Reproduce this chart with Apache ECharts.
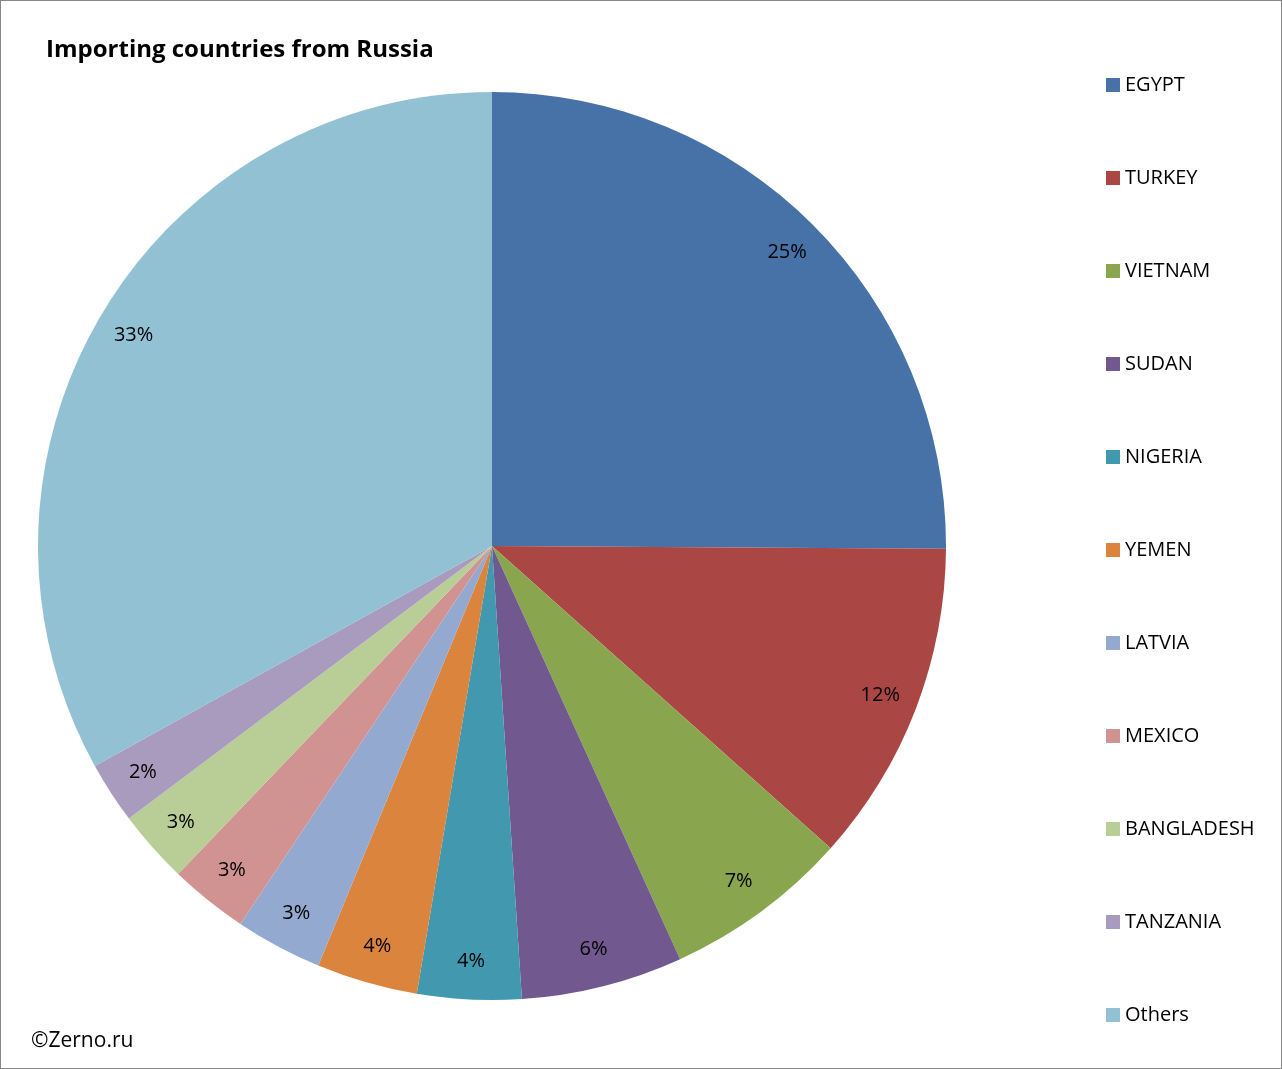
<!DOCTYPE html>
<html><head><meta charset="utf-8">
<script src="https://cdn.jsdelivr.net/npm/echarts@6/dist/echarts.min.js"></script>
<style>body{margin:0;background:#fff}#c{position:absolute;left:0;top:0;width:1280px;height:1067px;border:1px solid #888}</style>
</head><body><div id="c"></div>
<script>
var countries=['EGYPT','TURKEY','VIETNAM','SUDAN','NIGERIA','YEMEN','LATVIA','MEXICO','BANGLADESH','TANZANIA','Others'];
var shares=[25.1,11.5,6.6,5.75,3.7,3.6,3.1,2.8,2.6,2.2,33.05];
var colors=['#4672a8','#aa4643','#89a54e','#71588f','#4198af','#db843d','#93a9cf','#d19392','#b9cd96','#a99bbd','#92c1d3'];
var font='"Open Sans", "Liberation Sans", sans-serif';
var data=countries.map(function(n,i){return {name:n,value:shares[i]};});
var chart=echarts.init(document.getElementById('c'));
chart.setOption({
  color:colors,
  animation:false,
  title:{text:'Importing countries from Russia',left:40,top:32,textStyle:{fontFamily:font,fontSize:24,fontWeight:'bold',color:'#000'}},
  graphic:[{type:'text',left:30,top:1030,style:{text:'©Zerno.ru',font:'21px '+font,fill:'#000'}}],
  legend:{orient:'vertical',left:1100,top:69,itemWidth:14,itemHeight:14,itemGap:73,icon:'rect',
    textStyle:{fontFamily:font,fontSize:20,color:'#000',padding:[0,0,0,0]},data:countries},
  series:[
    {type:'pie',center:[491,545],radius:[0,454],startAngle:90,clockwise:true,data:data,
      label:{show:false},labelLine:{show:false},itemStyle:{borderColor:'#fff',borderWidth:0}},
    {type:'pie',center:[491,545],radius:[370,456],startAngle:90,clockwise:true,data:data,silent:true,
      legendHoverLink:false,
      itemStyle:{color:'rgba(0,0,0,0)'},labelLine:{show:false},
      label:{show:true,position:'inside',fontFamily:font,fontSize:20,color:'#000',
        formatter:function(p){return Math.round(p.value)+'%';}}}
  ]
});
</script></body></html>
